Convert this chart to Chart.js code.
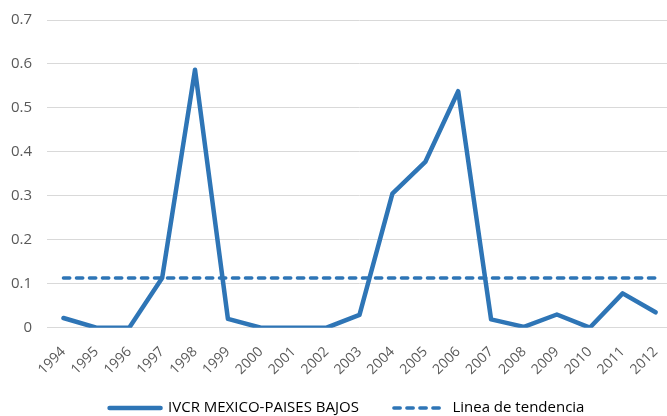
<!DOCTYPE html>
<html>
<head>
<meta charset="utf-8">
<script src="https://cdn.jsdelivr.net/npm/chart.js@4.4.1/dist/chart.umd.min.js"></script>
<style>
  html, body { margin: 0; padding: 0; background: #ffffff; overflow: hidden; }
  #wrap { width: 694px; height: 416px; }
</style>
</head>
<body>
<div id="wrap"><canvas id="chart" width="694" height="416"></canvas></div>
<script>
// Years on the category axis
const years = ['1994','1995','1996','1997','1998','1999','2000','2001','2002','2003',
               '2004','2005','2006','2007','2008','2009','2010','2011','2012'];

// IVCR index, Mexico vs. Netherlands
const ivcr = [0.022, 0, 0, 0.113, 0.587, 0.020, 0, 0, 0, 0.029,
              0.305, 0.377, 0.538, 0.019, 0.002, 0.030, 0, 0.078, 0.035];

// Flat trend line (average level)
const tendencia = [0.113, 0.113, 0.113, 0.113, 0.113, 0.113, 0.113, 0.113, 0.113, 0.113,
                   0.113, 0.113, 0.113, 0.113, 0.113, 0.113, 0.113, 0.113, 0.113];

// Value-axis ticks
const yTicks = [0, 0.1, 0.2, 0.3, 0.4, 0.5, 0.6, 0.7];

const blue = '#2E75B6';
const textGray = '#595959';
const gridGray = '#D9D9D9';

Chart.defaults.font.family = '"Open Sans", "Noto Sans", sans-serif';
Chart.defaults.color = textGray;

// Legend row sits near the bottom edge and is centred on the full page width
const legendPlace = {
  id: 'legendPlace',
  beforeInit(chart) {
    const origFit = chart.legend.fit;
    chart.legend.fit = function () {
      origFit.call(this);
      this.height = 28.3;
    };
  },
  afterLayout(chart) {
    const lg = chart.legend;
    lg.left += 11;
    lg.right += 11;
    lg.top = 365.5;
    lg.bottom = 416;
  }
};

const chart = new Chart(document.getElementById('chart'), {
  type: 'line',
  data: {
    labels: years,
    datasets: [
      {
        label: 'IVCR MEXICO-PAISES BAJOS',
        data: ivcr,
        borderColor: blue,
        backgroundColor: blue,
        borderWidth: 4.5,
        pointRadius: 0,
        tension: 0,
        borderCapStyle: 'round',
        borderJoinStyle: 'round'
      },
      {
        label: 'Linea de tendencia',
        data: tendencia,
        borderColor: blue,
        backgroundColor: blue,
        borderWidth: 3.5,
        borderDash: [6.3, 6.7],
        borderCapStyle: 'round',
        pointRadius: 0,
        tension: 0
      }
    ]
  },
  options: {
    responsive: false,
    animation: false,
    layout: { padding: { top: 0, right: 22, left: 0, bottom: 0 } },
    scales: {
      x: {
        offset: true,
        grid: { display: false, drawTicks: false },
        border: { display: false },
        afterFit: (scale) => { scale.height = 60; },
        ticks: {
          maxRotation: 45,
          minRotation: 45,
          autoSkip: false,
          padding: 16,
          font: { size: 14 },
          color: textGray
        }
      },
      y: {
        min: 0,
        max: 0.7,
        afterBuildTicks: (axis) => { axis.ticks = yTicks.map(v => ({ value: v })); },
        afterFit: (scale) => { scale.width = 47; scale.paddingTop = 20; },
        grid: { color: gridGray, lineWidth: 1, drawTicks: false },
        border: { display: false },
        ticks: {
          padding: 15,
          font: { size: 15 },
          color: textGray,
          callback: (v) => String(v)
        }
      }
    },
    plugins: {
      tooltip: { enabled: false },
      legend: {
        position: 'bottom',
        labels: {
          usePointStyle: true,
          pointStyle: 'line',
          pointStyleWidth: 51,
          boxHeight: 4,
          padding: 35,
          font: { size: 15 },
          color: textGray,
          generateLabels(chart) {
            return chart.data.datasets.map((ds, i) => ({
              text: ds.label,
              datasetIndex: i,
              pointStyle: 'line',
              fillStyle: ds.borderColor,
              strokeStyle: ds.borderColor,
              lineWidth: ds.borderWidth,
              lineDash: ds.borderDash || [],
              lineCap: 'round',
              hidden: false
            }));
          }
        }
      }
    }
  },
  plugins: [legendPlace]
});
</script>
</body>
</html>
